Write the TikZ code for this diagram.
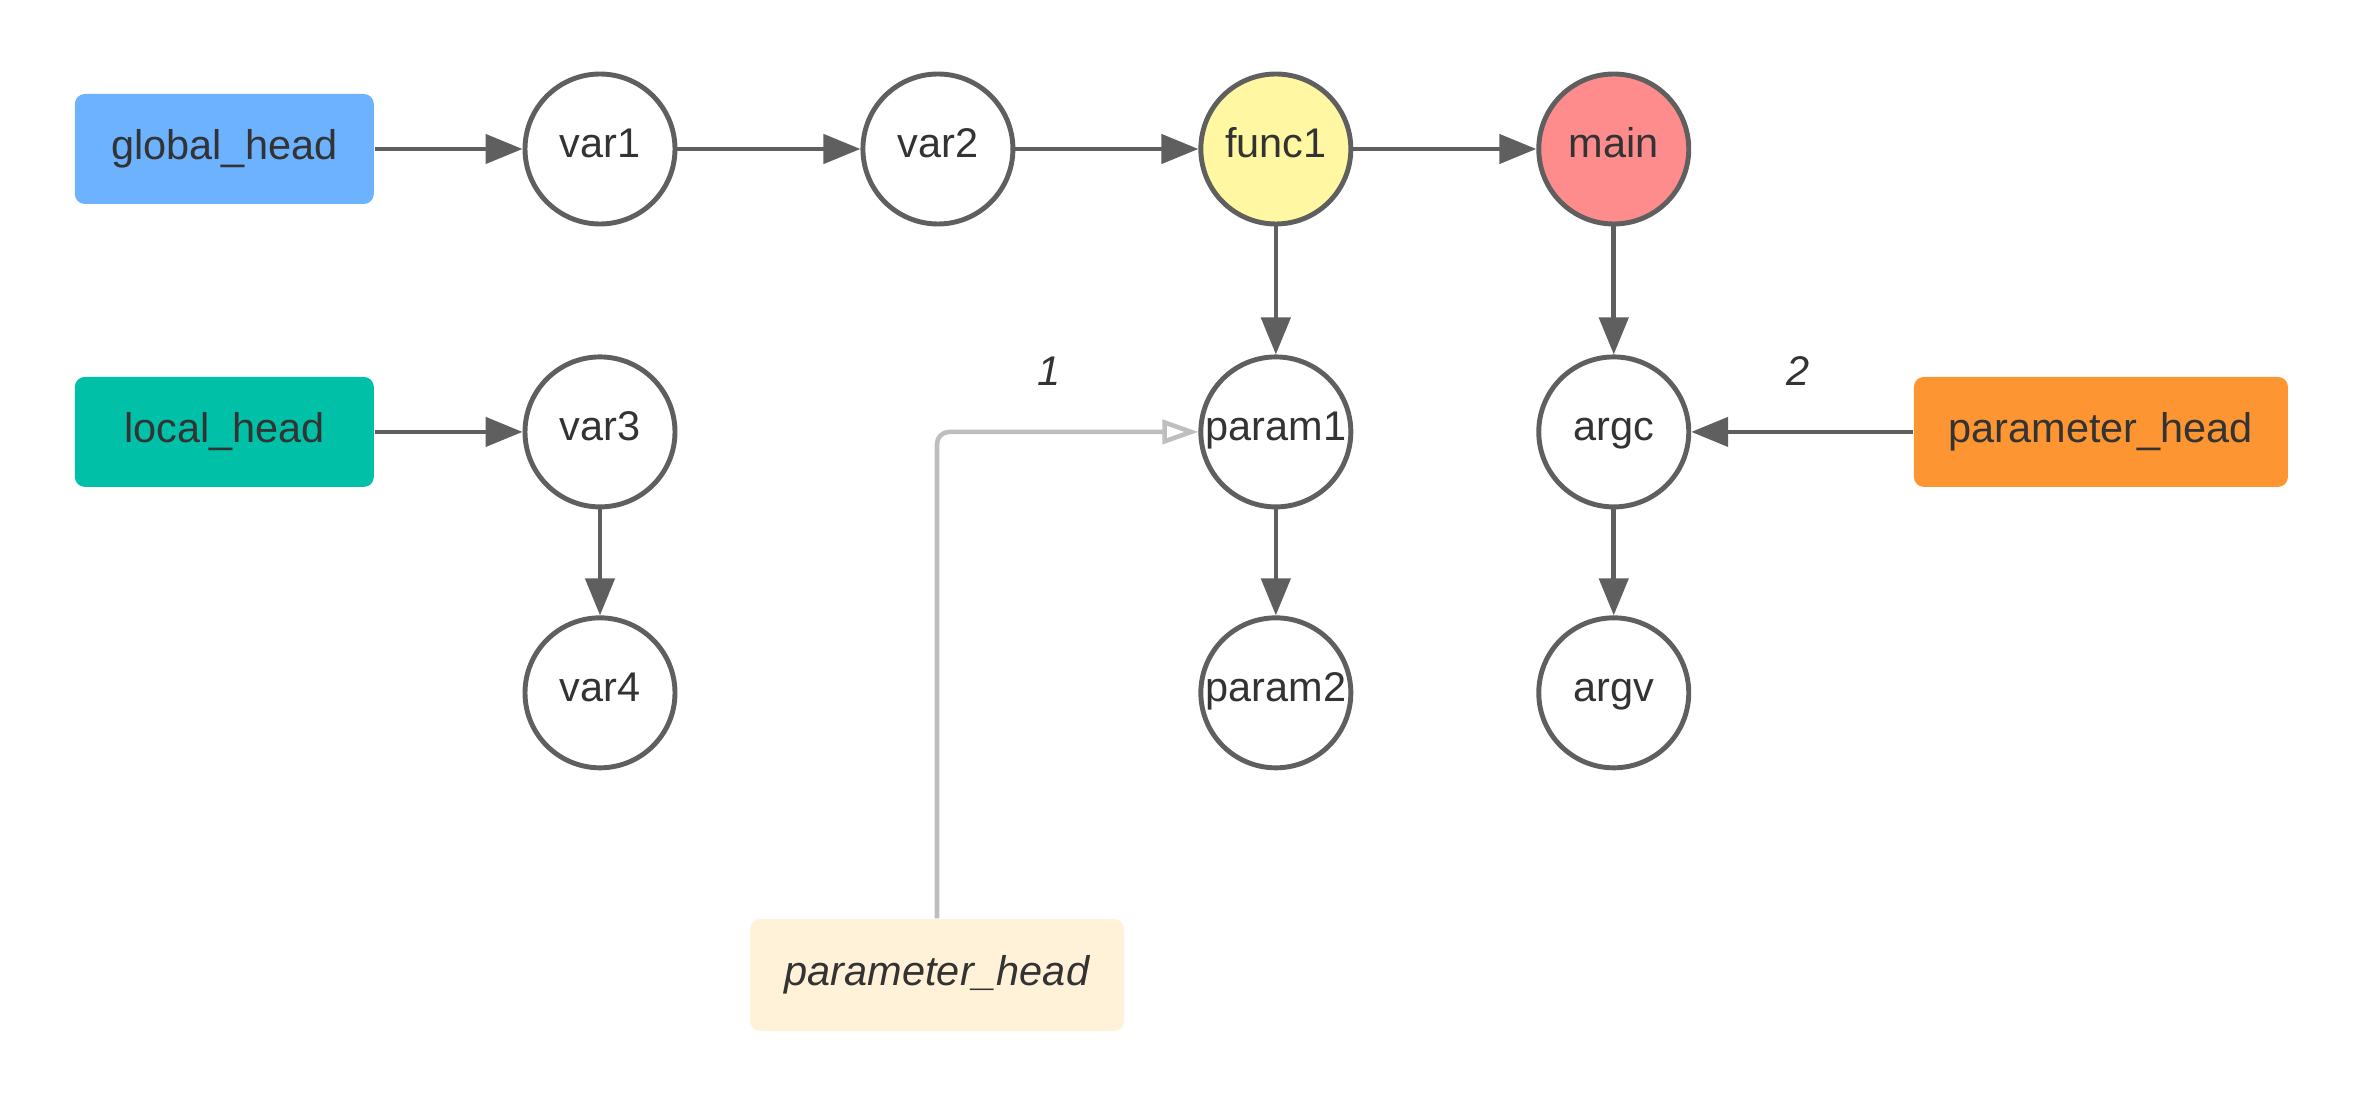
\documentclass[tikz,border=0pt]{standalone}
\usepackage{fontspec}
\setmainfont{Liberation Sans}
\usepackage{tikz}
\usetikzlibrary{positioning}
\usetikzlibrary{arrows.meta}
\definecolor{edge}{RGB}{95,95,95}
\definecolor{ink}{RGB}{51,51,51}
\definecolor{hint}{RGB}{190,190,190}
\definecolor{headblue}{RGB}{108,178,255}
\definecolor{headgreen}{RGB}{0,193,168}
\definecolor{headorange}{RGB}{252,149,50}
\definecolor{headlight}{RGB}{255,242,217}
\definecolor{funcyellow}{RGB}{255,247,161}
\definecolor{mainred}{RGB}{255,140,140}

\begin{document}
\begin{tikzpicture}[
    font=\fontsize{11.8}{13.5}\selectfont, text=ink,
    item/.style={draw=edge, circle, line width=1.4pt, fill=white, minimum size=1.5cm, inner sep=0pt, text height=0.72em, text depth=0.21em},
    head/.style={rectangle, rounded corners=0.1cm, minimum width=2.99cm, minimum height=1.1cm},
    link/.style={draw=edge, line width=1.3pt, -{Triangle[length=0.37cm, width=0.29cm]}},
    hintlink/.style={draw=hint, line width=1.3pt, rounded corners=0.12cm, -{Triangle[open, length=0.36cm, width=0.24cm]}}
]

    \useasboundingbox (0,0) rectangle (23.63,-11.06);

    % Global list
    \node (var1) [item] at (6.0,-1.49) {var1};
    \node (var2) [item, right=1.83cm of var1] {var2};
    \node (func1) [item, fill=funcyellow, right=1.83cm of var2] {func1};
    \node (main) [item, fill=mainred, right=1.83cm of func1] {main};
    \node (ghead) [head, fill=headblue, left=1.48cm of var1] {global\_head};

    % Local list
    \node (var3) [item, below=1.28cm of var1] {var3};
    \node (var4) [item, below=1.06cm of var3] {var4};
    \node (lhead) [head, fill=headgreen, left=1.48cm of var3] {local\_head};

    % Parameters
    \node (param1) [item, below=1.28cm of func1] {param1};
    \node (param2) [item, below=1.06cm of param1] {param2};
    \node (argc) [item, below=1.28cm of main] {argc};
    \node (argv) [item, below=1.06cm of argc] {argv};
    \node (phead) [head, fill=headorange, minimum width=3.74cm, right=2.22cm of argc] {parameter\_head};
    \node (pold) [head, fill=headlight, minimum width=3.74cm, minimum height=1.12cm] at (9.37,-9.75) {\itshape parameter\_head};

    % Step labels
    \node (step1) at (10.49,-3.71) {\itshape 1};
    \node (step2) at (17.98,-3.71) {\itshape 2};

    % Arrows
    \draw[link] (ghead) -- (var1);
    \draw[link] (var1) -- (var2);
    \draw[link] (var2) -- (func1);
    \draw[link] (func1) -- (main);
    \draw[link] (lhead) -- (var3);
    \draw[link] (var3) -- (var4);
    \draw[link] (func1) -- (param1);
    \draw[link] (param1) -- (param2);
    \draw[link] (main) -- (argc);
    \draw[link] (argc) -- (argv);
    \draw[link] (phead) -- (argc);
    \draw[hintlink] (pold.north) |- (param1.west);

\end{tikzpicture}
\end{document}
